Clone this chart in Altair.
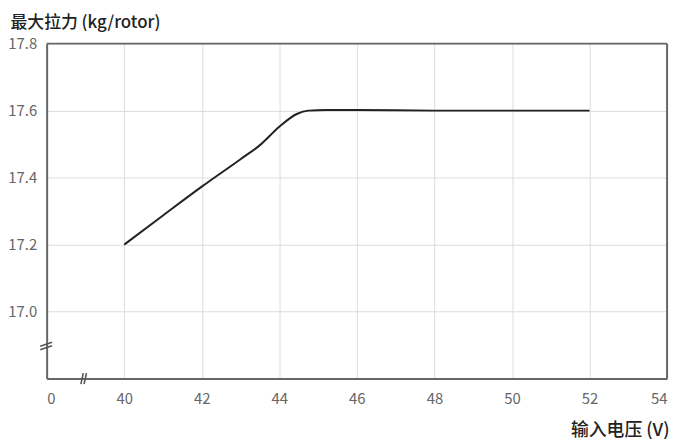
import altair as alt
import pandas as pd

# ---- data ----
voltage = [40, 41, 42, 43, 43.5, 44, 44.45, 44.75, 45.2, 46, 48, 50, 52]
thrust = [17.2, 17.287, 17.373, 17.455, 17.497, 17.552, 17.59, 17.6, 17.602, 17.602, 17.6, 17.6, 17.6]

x_ticks = [38, 40, 42, 44, 46, 48, 50, 52, 54]   # 38 is shown as "0" (broken axis)
y_ticks = [16.8, 17.0, 17.2, 17.4, 17.6, 17.8]   # 16.8 is the axis floor (unlabelled)

x_break = [38.96]
y_break = [16.898]
x_max = [54]
y_max = [17.8]

FONT = "Noto Sans CJK SC"
AXIS_COL = "#666666"

df = pd.DataFrame({"v": voltage, "t": thrust})
xb = pd.DataFrame({"x": x_break, "y": [16.8]})
yb = pd.DataFrame({"x": [38], "y": y_break})

xscale = alt.Scale(domain=[38, 54], nice=False, zero=False)
yscale = alt.Scale(domain=[16.8, 17.8], nice=False, zero=False)

x_axis = alt.Axis(
    values=x_ticks,
    labelExpr="datum.value == 38 ? '0' : datum.label",
    format="d",
    title="输入电压 (V)",
    titleX=628, titleY=52, titleAlign="right", titleBaseline="middle",
    titleFont=FONT, titleFontSize=18, titleFontWeight=500, titleColor="#222222",
    labelFont=FONT, labelFontSize=15, labelColor="#666666", labelPadding=13,
    ticks=False, domainColor=AXIS_COL, domainWidth=2,
    gridColor="#dddddd", gridWidth=1,
    gridOpacity=alt.condition("datum.value == 38 || datum.value == 54", alt.value(0), alt.value(1)),
)
y_axis = alt.Axis(
    values=y_ticks,
    labelExpr="datum.value < 16.9 ? '' : format(datum.value, '.1f')",
    title="最大拉力 (kg/rotor)",
    titleAngle=0, titleX=-37, titleY=-21, titleAlign="left", titleBaseline="middle",
    titleFont=FONT, titleFontSize=17, titleFontWeight=500, titleColor="#222222",
    labelFont=FONT, labelFontSize=15, labelColor="#666666", labelPadding=10,
    ticks=False, domainColor=AXIS_COL, domainWidth=2,
    gridColor="#dddddd", gridWidth=1,
    gridOpacity=alt.condition("datum.value < 16.9 || datum.value > 17.7", alt.value(0), alt.value(1)),
)

line = alt.Chart(df).mark_line(color="#222222", strokeWidth=2, interpolate="monotone").encode(
    x=alt.X("v:Q", scale=xscale, axis=x_axis),
    y=alt.Y("t:Q", scale=yscale, axis=y_axis),
)

# frame: top and right borders
top_border = alt.Chart(pd.DataFrame({"y": y_max})).mark_rule(color=AXIS_COL, strokeWidth=2).encode(
    y=alt.Y("y:Q", scale=yscale)
)
right_border = alt.Chart(pd.DataFrame({"x": x_max})).mark_rule(color=AXIS_COL, strokeWidth=2).encode(
    x=alt.X("x:Q", scale=xscale)
)

def slashes(data, offsets):
    layers = []
    for (xo, x2o, yo, y2o) in offsets:
        layers.append(
            alt.Chart(data).mark_rule(
                color="#555555", strokeWidth=1.6,
                xOffset=xo, x2Offset=x2o, yOffset=yo, y2Offset=y2o,
            ).encode(
                x=alt.X("x:Q", scale=xscale),
                x2="x:Q",
                y=alt.Y("y:Q", scale=yscale),
                y2="y:Q",
            )
        )
    return layers

xbreak_layers = slashes(xb, [(-3.0, -0.6, 5.5, -5.5), (0.2, 2.6, 5.5, -5.5)])
ybreak_layers = slashes(yb, [(-6.5, 5.5, 0.5, -3.5), (-6.5, 5.5, 4.0, 0.0)])

chart = alt.layer(line, top_border, right_border, *xbreak_layers, *ybreak_layers).properties(
    width=626, height=338,
    padding={"left": 39, "top": 34, "right": 8, "bottom": 62},
    autosize=alt.AutoSizeParams(type="none"),
).configure_view(stroke=AXIS_COL, strokeWidth=2).configure(background="white")

chart.save("out.html", embed_options={"renderer": "svg", "actions": False})
